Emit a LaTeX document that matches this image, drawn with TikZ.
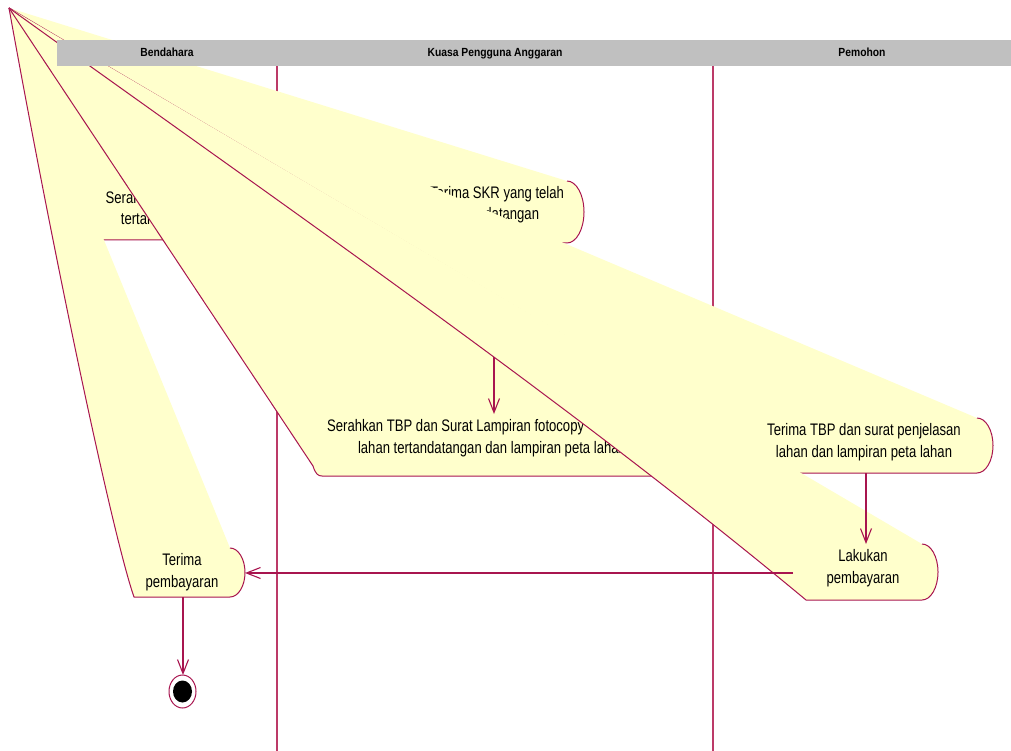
\documentclass[tikz,border=0pt]{standalone}
\usepackage{fontspec}
\newfontfamily\actfont[FakeStretch=0.784]{Liberation Sans}
\newfontfamily\hdrfont[FakeStretch=0.875]{Liberation Sans}
\usetikzlibrary{arrows.meta}
\definecolor{actfill}{HTML}{FFFFCC}
\definecolor{actline}{HTML}{A8154F}
\definecolor{laneline}{HTML}{BC3A68}
\definecolor{hdrgrey}{HTML}{C0C0C0}
\tikzset{
  actstroke/.style={draw=actline, line width=1pt, line join=round},
  acttext/.style={anchor=base, inner sep=0pt, text=black, font=\actfont\fontsize{16.7}{20}\selectfont},
  flow/.style={color=actline, line width=1.1pt, -{Straight Barb[length=14pt, width=11pt]}},
  lane/.style={color=laneline, line width=1.1pt},
  hdrtext/.style={anchor=base, inner sep=0pt, text=black, font=\hdrfont\bfseries\fontsize{11.8}{14}\selectfont}
}
\begin{document}
\begin{tikzpicture}[x=1pt,y=-1pt]
\useasboundingbox (0,0) rectangle (1011,751);
\coordinate (apex) at (9,8);
% swimlane dividers
\coordinate (l1t) at (277,66); \coordinate (l1b) at (277,751);
\coordinate (l2t) at (713,66); \coordinate (l2b) at (713,751);
\draw[lane] (l1t) -- (l1b);
\draw[lane] (l2t) -- (l2b);

% A1 Serahkan SKR yang tertandatangan
\fill[actfill] (apex) -- (75,232) arc[start angle=180,end angle=90,x radius=8,y radius=8] -- (239,240) arc[start angle=90,end angle=-90,x radius=16,y radius=27] -- cycle;
\draw[actstroke] (apex) -- (75,232) arc[start angle=180,end angle=90,x radius=8,y radius=8] -- (239,240) arc[start angle=90,end angle=-90,x radius=16,y radius=27];
\node[acttext] (a1a) at (165,203.5) {Serahkan SKR yang};
\node[acttext] (a1b) at (165,225) {tertandatangan};

% A2 Terima SKR yang telah tertandatangan
\fill[actfill] (apex) -- (404,235) arc[start angle=180,end angle=90,x radius=8,y radius=8] -- (567,243) arc[start angle=90,end angle=-90,x radius=17,y radius=31] -- cycle;
\draw[actstroke] (apex) -- (404,235) arc[start angle=180,end angle=90,x radius=8,y radius=8] -- (567,243) arc[start angle=90,end angle=-90,x radius=17,y radius=31];
\node[acttext] (a2a) at (497,198.5) {Terima SKR yang telah};
\node[acttext] (a2b) at (495,220) {tertandatangan};
\coordinate (a2out) at (494,243);

% A3 Serahkan TBP ...
\fill[actfill] (apex) -- (313,466) .. controls (315.5,474) and (318,476) .. (322,476) -- (655,476) arc[start angle=90,end angle=-90,x radius=16,y radius=31] -- cycle;
\draw[actstroke] (apex) -- (313,466) .. controls (315.5,474) and (318,476) .. (322,476) -- (655,476) arc[start angle=90,end angle=-90,x radius=16,y radius=31];
\node[acttext, anchor=base west] (a3a) at (327,431.5) {Serahkan TBP dan Surat Lampiran fotocopy};
\node[acttext] (a3b) at (492,453) {lahan tertandatangan dan lampiran peta lahan};
\coordinate (a3in) at (494,414);
\draw[flow] (a2out) -- (a3in);

% A4 Terima TBP ...
\fill[actfill] (apex) -- (780,463) arc[start angle=180,end angle=90,x radius=8,y radius=10] -- (977,473) arc[start angle=90,end angle=-90,x radius=16,y radius=27.5] -- cycle;
\draw[actstroke] (apex) -- (780,463) arc[start angle=180,end angle=90,x radius=8,y radius=10] -- (977,473) arc[start angle=90,end angle=-90,x radius=16,y radius=27.5];
\node[acttext] (a4a) at (864,435.5) {Terima TBP dan surat penjelasan};
\node[acttext] (a4b) at (864,457) {lahan dan lampiran peta lahan};
\coordinate (a4out) at (866,473);

% A5 Lakukan pembayaran
\fill[actfill] (apex) .. controls (287,208) and (563,398) .. (806,600) -- (922,600) arc[start angle=90,end angle=-90,x radius=16,y radius=28] -- cycle;
\draw[actstroke] (apex) .. controls (287,208) and (563,398) .. (806,600) -- (922,600) arc[start angle=90,end angle=-90,x radius=16,y radius=28];
\node[acttext] (a5a) at (863,561.5) {Lakukan};
\node[acttext] (a5b) at (863,583) {pembayaran};
\coordinate (a5in) at (866,544);
\coordinate (a5out) at (793,573);
\draw[flow] (a4out) -- (a5in);

% A6 Terima pembayaran
\fill[actfill] (apex) .. controls (54,258) and (113,537) .. (134,597) -- (230,597) arc[start angle=90,end angle=-90,x radius=15,y radius=24.5] -- cycle;
\draw[actstroke] (apex) .. controls (54,258) and (113,537) .. (134,597) -- (230,597) arc[start angle=90,end angle=-90,x radius=15,y radius=24.5];
\node[acttext] (a6a) at (182,565.5) {Terima};
\node[acttext] (a6b) at (182,587) {pembayaran};
\coordinate (a6in) at (245,573);
\coordinate (a6out) at (183,597);
\draw[flow] (a5out) -- (a6in);

% end state
\draw[actline, line width=1pt, fill=white] (182.5,691.5) ellipse[x radius=13.5, y radius=16.5];
\fill[black] (182.5,691.5) ellipse[x radius=9.5, y radius=11];
\coordinate (endin) at (183,675);
\draw[flow] (a6out) -- (endin);

% header
\fill[hdrgrey] (57,40) rectangle (1011,66);
\node[hdrtext] (h1) at (167,57) {Bendahara};
\node[hdrtext] (h2) at (495,57) {Kuasa Pengguna Anggaran};
\node[hdrtext] (h3) at (862,57) {Pemohon};
\end{tikzpicture}
\end{document}
